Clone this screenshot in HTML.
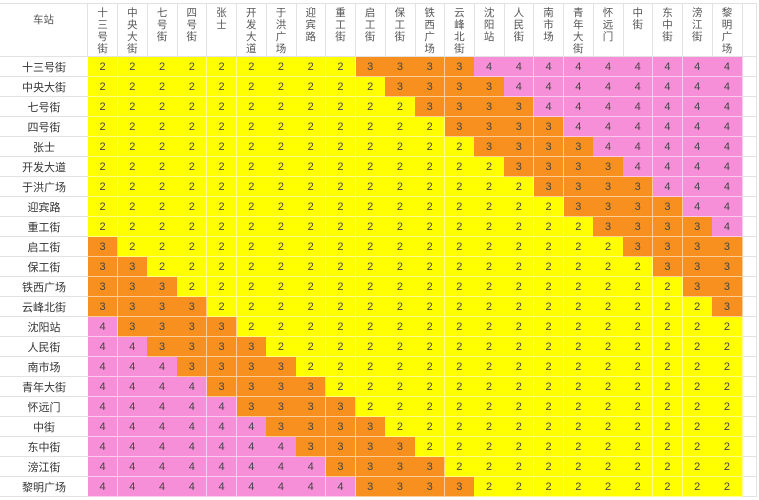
<!DOCTYPE html>
<html><head><meta charset="utf-8">
<style>
body{margin:0;background:#fff;width:759px;height:500px;overflow:hidden;font-family:"Liberation Sans","Noto Sans CJK SC",sans-serif;}
#chart{position:absolute;left:0;top:0;width:759px;height:500px;}
.c{position:absolute;box-sizing:border-box;display:flex;align-items:center;justify-content:center;font-size:11px;color:#444;overflow:hidden;}
.cell{border-right:1px solid rgba(255,255,255,0.55);border-bottom:1px solid rgba(255,255,255,0.55);}
.rl{border-bottom:1px solid #e2e2e2;color:#333;}
.hd{border-right:1px solid #e2e2e2;border-bottom:1px solid #e2e2e2;align-items:flex-start;padding-top:3px;line-height:12px;font-size:10.5px;text-align:center;color:#555;}
</style></head>
<body>
<div id="chart"></div>
<script>
const stations=["十三号街","中央大街","七号街","四号街","张士","开发大道","于洪广场","迎宾路","重工街","启工街","保工街","铁西广场","云峰北街","沈阳站","人民街","南市场","青年大街","怀远门","中街","东中街","滂江街","黎明广场"];
const headerLabels=["十三号街","中央大街","七号街","四号街","张士","开发大道","于洪广场","迎宾路","重工街","启工街","保工街","铁西广场","云峰北街","沈阳站","人民街","南市场","青年大街","怀远门","中街","东中街","滂江街","黎明广场"];
const fares=[
"2222222223333444444444",
"2222222222333344444444",
"2222222222233334444444",
"2222222222223333444444",
"2222222222222333344444",
"2222222222222233334444",
"2222222222222223333444",
"2222222222222222333344",
"2222222222222222233334",
"3222222222222222223333",
"3322222222222222222333",
"3332222222222222222233",
"3333222222222222222223",
"4333322222222222222222",
"4433332222222222222222",
"4443333222222222222222",
"4444333322222222222222",
"4444433332222222222222",
"4444443333222222222222",
"4444444333322222222222",
"4444444433332222222222",
"4444444443333222222222"];
const colors={"2":"#ffff00","3":"#f7901e","4":"#f78fd8"};
const X0=88,CW=29.73,Y0=57,RH=20,HH=57;
const root=document.getElementById('chart');
function mk(cls,l,t,w,h,txt){const d=document.createElement('div');d.className='c '+cls;d.style.left=l+'px';d.style.top=t+'px';d.style.width=w+'px';d.style.height=h+'px';d.textContent=txt;root.appendChild(d);return d;}
const corner=mk('hd',0,3,X0,HH-3,'车站');


corner.style.borderTop='1px solid #e2e2e2';
corner.style.paddingTop='10px';
headerLabels.forEach((s,j)=>{
  const d=mk('hd',X0+j*CW,3,CW+0.5,HH-3,'');
  d.innerHTML=s.split('').join('<br>');
  d.style.borderTop='1px solid #e2e2e2';
  
  
});
const ex=mk('hd',X0+22*CW,3,759-(X0+22*CW)-2,HH-3,'');
ex.style.borderTop='1px solid #e2e2e2';


stations.forEach((s,i)=>{
  const r=mk('rl',0,Y0+i*RH,X0,RH,s);
  
  
  const e=mk('rl',X0+22*CW,Y0+i*RH,759-(X0+22*CW)-2,RH,'');
  e.style.borderRight='1px solid #e2e2e2';
  
  
  fares[i].split('').forEach((v,j)=>{
    const c=mk('cell',X0+j*CW,Y0+i*RH,CW+0.5,RH,v);
    c.style.background=colors[v];
    
    
  });
});
</script>
</body></html>
